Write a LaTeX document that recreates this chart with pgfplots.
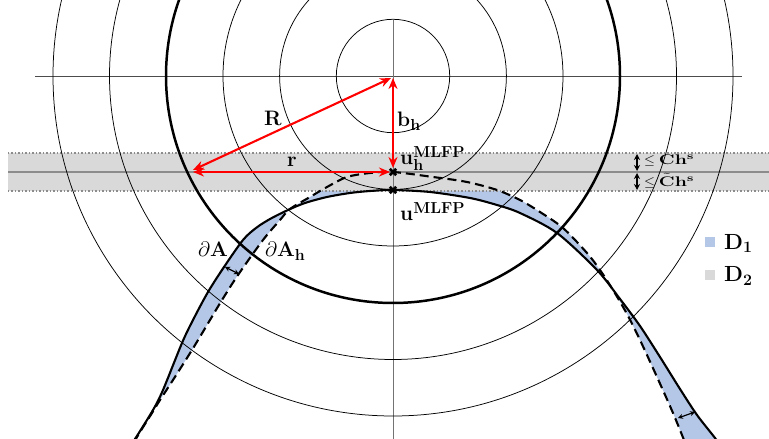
\RequirePackage{fix-cm}
\documentclass[border=0pt]{standalone}
\usepackage{graphicx}
\usepackage{pgfplots}
\pgfplotsset{compat=1.18}
\usepgfplotslibrary{fillbetween}
\usetikzlibrary{patterns,patterns.meta,arrows.meta}
\definecolor{dblue}{RGB}{180,199,231}
\definecolor{bandgray}{RGB}{217,217,217}
\definecolor{hatchblue}{RGB}{152,176,222}
\definecolor{lgray}{RGB}{140,140,140}
\DeclareMathSizes{21}{21}{16}{12}
\DeclareMathSizes{22}{22}{16}{12}
\DeclareMathSizes{14}{14}{10}{7}
\begin{document}
\begin{tikzpicture}
\begin{axis}[
  scale only axis, width=769bp, height=439bp,
  xmin=0, xmax=769, ymin=0, ymax=439, y dir=reverse,
  axis lines=none, ticks=none, clip=true,
  legend style={at={(axis cs:705,232)}, anchor=north west, draw=none, fill=none,
    font=\fontsize{22}{25}\selectfont, row sep=12bp, inner sep=0pt},
  legend cell align=left,
  legend image code/.code={\path[draw=none,fill=none] (0bp,0bp) -- (17bp,0bp); \fill[#1, draw=none] (0bp,-5bp) rectangle (10bp,5bp);},
]
% curves (paths)
\addplot[name path=S, draw=none, smooth, forget plot] coordinates {
(124,455) (135,439) (153,410) (163,390) (182,343) (193,320) (208,292) (224,267) (243,240) (256,228) (270,219) (288,210) (305,203) (327,197) (350,193) (370,191) (393,190) (430,192) (470,198) (497,205) (520,213) (557,233) (597,270) (620,299) (640,326) (660,357) (680,389) (697,415) (715,438) (727,455)};
\addplot[name path=H, draw=none, smooth, forget plot] coordinates {
(128,455) (137,437) (152,413) (160,400) (173,380) (192,350) (210,320) (222,300) (238,275) (263,240) (280,220) (290,209) (310,197) (327,187) (347,177) (370,173) (393,172) (433,177) (467,182) (497,190) (520,200) (540,212) (563,228) (587,253) (600,270) (613,290) (627,314) (640,340) (657,377) (673,413) (684,440) (690,455)};
\addplot[fill=dblue, draw=none, forget plot] fill between[of=S and H];
% band
\addplot[fill=bandgray, draw=none, forget plot] coordinates {(8,153) (770,153) (770,191) (8,191) (8,153)};
\addplot[pattern={Lines[angle=45, distance=3.2bp, line width=1.3bp]}, pattern color=hatchblue, draw=none, forget plot] fill between[of=S and H, soft clip={(axis cs:0,153) rectangle (axis cs:770,191)}];
\addplot[lgray, dotted, line width=1.5pt, forget plot] coordinates {(8,153) (770,153)};
\addplot[lgray, dotted, line width=1.5pt, forget plot] coordinates {(8,191) (770,191)};
\addplot[lgray, line width=1.8pt, forget plot] coordinates {(8,172) (770,172)};
% axes lines
\addplot[black!70, line width=0.7pt, forget plot] coordinates {(35,76) (742,76)};
\addplot[black!55, line width=0.9pt, forget plot] coordinates {(393,20) (393,440)};
% circles
\draw[black, line width=0.75pt] (axis cs:393,76) circle[radius=56.7];
\draw[black, line width=0.75pt] (axis cs:393,76) circle[radius=113.4];
\draw[black, line width=0.75pt] (axis cs:393,76) circle[radius=170];
\draw[black, line width=2.5pt] (axis cs:393,76) circle[radius=227];
\draw[black, line width=0.75pt] (axis cs:393,76) circle[radius=283.5];
\draw[black, line width=0.75pt] (axis cs:393,76) circle[radius=340];
% visible curves
\addplot[black, line width=2.1pt, smooth, forget plot] coordinates {
(124,455) (135,439) (153,410) (163,390) (182,343) (193,320) (208,292) (224,267) (243,240) (256,228) (270,219) (288,210) (305,203) (327,197) (350,193) (370,191) (393,190) (430,192) (470,198) (497,205) (520,213) (557,233) (597,270) (620,299) (640,326) (660,357) (680,389) (697,415) (715,438) (727,455)};
\addplot[black, line width=2.1pt, smooth, dash pattern=on 9bp off 5bp, forget plot] coordinates {
(128,455) (137,437) (152,413) (160,400) (173,380) (192,350) (210,320) (222,300) (238,275) (263,240) (280,220) (290,209) (310,197) (327,187) (347,177) (370,173) (393,172) (433,177) (467,182) (497,190) (520,200) (540,212) (563,228) (587,253) (600,270) (613,290) (627,314) (640,340) (657,377) (673,413) (684,440) (690,455)};
% small double arrows
\addplot[black, line width=1.2pt, {Stealth[length=5bp,width=5bp]}-{Stealth[length=5bp,width=5bp]}, forget plot] coordinates {(225,267) (239,274)};
\addplot[black, line width=1.2pt, {Stealth[length=5bp,width=5bp]}-{Stealth[length=5bp,width=5bp]}, forget plot] coordinates {(678,418) (695,412)};
\addplot[black, line width=1.3pt, {Stealth[length=6bp,width=6bp]}-{Stealth[length=6bp,width=6bp]}, forget plot] coordinates {(637,154) (637,171)};
\addplot[black, line width=1.3pt, {Stealth[length=6bp,width=6bp]}-{Stealth[length=6bp,width=6bp]}, forget plot] coordinates {(637,173) (637,190)};
% red arrows
\addplot[red, line width=2.1pt, {Stealth[length=11bp,width=9bp]}-{Stealth[length=11bp,width=9bp]}, forget plot] coordinates {(391,78) (193,170)};
\addplot[red, line width=2.1pt, {Stealth[length=11bp,width=9bp]}-{Stealth[length=11bp,width=9bp]}, forget plot] coordinates {(193,172) (390,172)};
\addplot[red, line width=2.1pt, {Stealth[length=11bp,width=9bp]}-{Stealth[length=11bp,width=9bp]}, forget plot] coordinates {(393,78) (393,168)};
% markers
\addplot[black, only marks, mark=x, mark size=4.5pt, mark options={line width=2.8pt}, forget plot] coordinates {(393,172) (393,190)};
% labels
\node[font=\fontsize{21}{25}\selectfont] at (axis cs:273,118) {$\mathbf{R}$};
\node[font=\fontsize{21}{25}\selectfont] at (axis cs:292,162) {$\mathbf{r}$};
\node[font=\fontsize{21}{25}\selectfont, anchor=west, inner sep=0pt] at (axis cs:397,121) {$\mathbf{b}_{\mathbf{h}}$};
\node[font=\fontsize{21}{25}\selectfont, anchor=base west, inner sep=0pt] at (axis cs:400,165) {$\mathbf{u}_{\mathbf{h}}^{\mathbf{MLFP}}$};
\node[font=\fontsize{21}{25}\selectfont, anchor=base west, inner sep=0pt] at (axis cs:400,221) {$\mathbf{u}^{\mathbf{MLFP}}$};
\node[font=\fontsize{21}{25}\selectfont, anchor=base east, inner sep=0pt] at (axis cs:228,257) {$\partial\mathbf{A}$};
\node[font=\fontsize{21}{25}\selectfont, anchor=base west, inner sep=0pt] at (axis cs:265,257) {$\partial\mathbf{A}_{\mathbf{h}}$};
\node[font=\fontsize{14}{16}\selectfont, anchor=west, inner sep=0pt] at (axis cs:644,161) {$\leq$\;\scalebox{1.4}[1]{$\mathbf{C}\mathbf{h}^{\mathbf{s}}$}};
\node[font=\fontsize{14}{16}\selectfont, anchor=west, inner sep=0pt] at (axis cs:644,181) {$\leq$\;\scalebox{1.4}[1]{$\tilde{\mathbf{C}}\mathbf{h}^{\mathbf{s}}$}};
% legend
\addlegendimage{dblue}
\addlegendentry{$\mathbf{D_1}$}
\addlegendimage{bandgray}
\addlegendentry{$\mathbf{D_2}$}
\end{axis}
\end{tikzpicture}
\end{document}
